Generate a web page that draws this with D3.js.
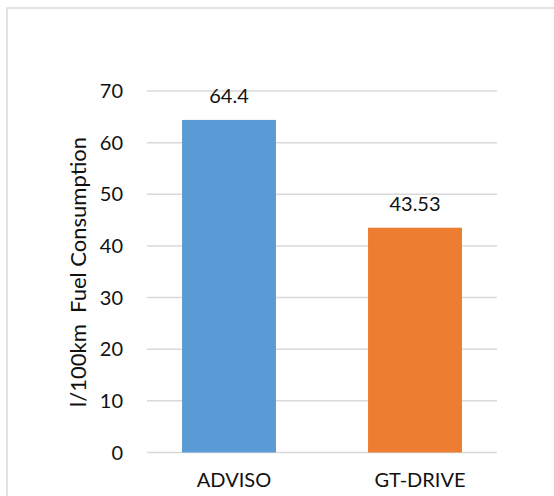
<!DOCTYPE html>
<html>
<head>
<meta charset="utf-8">
<script src="https://cdn.jsdelivr.net/npm/d3@7"></script>
<style>
  body { margin: 0; background: #fff; }
  text { font-family: Lato, "Liberation Sans", Arial, sans-serif; fill: #111; }
</style>
</head>
<body>
<svg id="chart"></svg>
<script>
// 数据
const categories = ['ADVISO', 'GT-DRIVE'];
const values = [64.4, 43.53];
const valueLabels = ['64.4', '43.53'];
const colors = ['#5b9bd5', '#ed7d31'];
const yTicks = [0, 10, 20, 30, 40, 50, 60, 70];
const yTitle = 'l/100km\u00a0\u00a0Fuel Consumption';

const width = 554, height = 496;
const svg = d3.select('#chart').attr('width', width).attr('height', height);

// 外框
svg.append('rect')
    .attr('x', 7).attr('y', 8)
    .attr('width', 600).attr('height', 600)
    .attr('fill', 'none')
    .attr('stroke', '#d9d9d9')
    .attr('stroke-width', 1.5);

const gridX = [147, 497];

// Y 比例尺
const y = d3.scaleLinear().domain([0, 70]).range([452.5, 91]);

// X 比例尺
const x = d3.scaleBand()
    .domain(categories)
    .range([136, 508])
    .paddingInner(0.495)
    .paddingOuter(0.2475);

// 网格线
svg.append('g')
    .selectAll('line')
    .data(yTicks)
    .join('line')
    .attr('x1', gridX[0]).attr('x2', gridX[1])
    .attr('y1', d => y(d)).attr('y2', d => y(d))
    .attr('stroke', '#d9d9d9')
    .attr('stroke-width', 1.5);

// Y 轴刻度文字
svg.append('g')
    .selectAll('text')
    .data(yTicks)
    .join('text')
    .attr('x', 123)
    .attr('y', d => y(d))
    .attr('dy', '0.35em')
    .attr('text-anchor', 'end')
    .attr('font-size', '20px')
    .text(d => d);

// 柱子
svg.append('g')
    .selectAll('rect')
    .data(values)
    .join('rect')
    .attr('x', (d, i) => x(categories[i]))
    .attr('y', d => y(d))
    .attr('width', x.bandwidth())
    .attr('height', d => y(0) - y(d))
    .attr('fill', (d, i) => colors[i]);

// 数值标签
svg.append('g')
    .selectAll('text')
    .data(values)
    .join('text')
    .attr('x', (d, i) => x(categories[i]) + x.bandwidth() / 2)
    .attr('y', d => y(d) - 17)
    .attr('text-anchor', 'middle')
    .attr('font-size', '20px')
    .text((d, i) => valueLabels[i]);

// 类别标签（略微偏右）
svg.append('g')
    .selectAll('text')
    .data(categories)
    .join('text')
    .attr('x', d => x(d) + x.bandwidth() / 2 + 5)
    .attr('y', 487)
    .attr('text-anchor', 'middle')
    .attr('font-size', '20px')
    .text(d => d);

// Y 轴标题
svg.append('text')
    .attr('transform', 'rotate(-90)')
    .attr('x', -272)
    .attr('y', 78)
    .attr('dy', '0.35em')
    .attr('text-anchor', 'middle')
    .attr('font-size', '22px')
    .text(yTitle);
</script>
</body>
</html>
